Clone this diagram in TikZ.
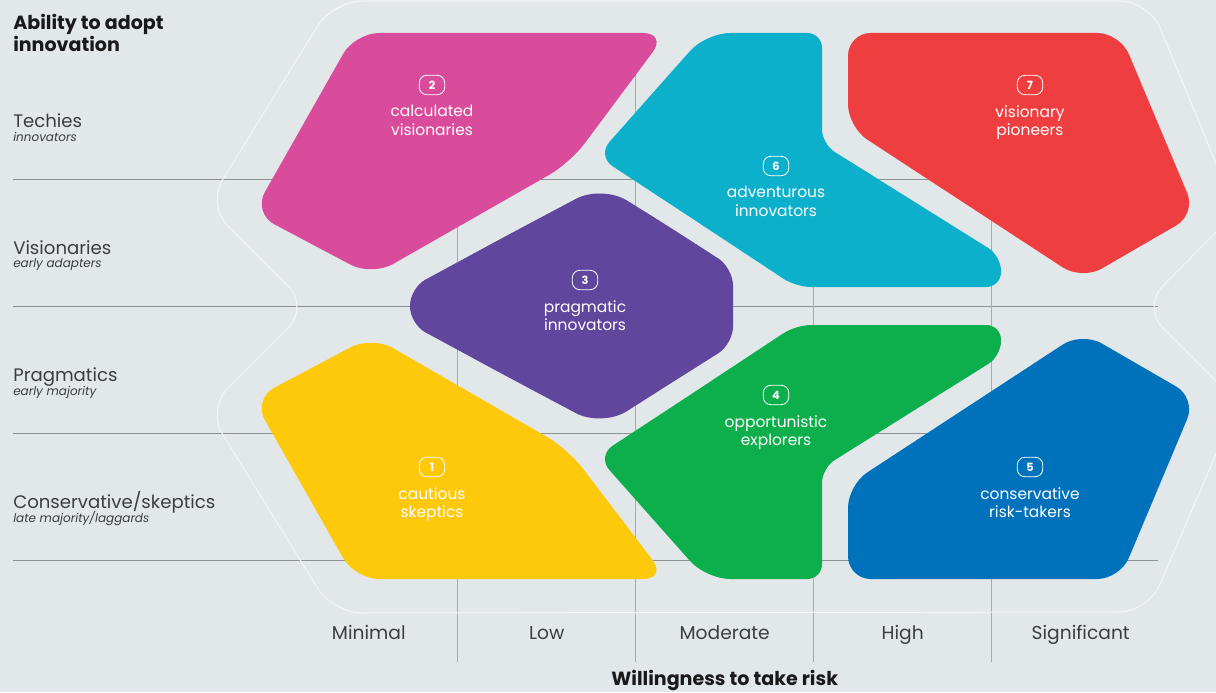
\documentclass[tikz,border=0pt]{standalone}
\usepackage{fontspec}
\setmainfont{Poppins}
\definecolor{bgpanel}{HTML}{E2E7EA}
\definecolor{gridh}{HTML}{8D9194}
\definecolor{gridv}{HTML}{A7ABAE}
\definecolor{rim}{HTML}{F3F5F7}
\definecolor{inktext}{HTML}{3B3E41}
\definecolor{cpink}{HTML}{D94B9B}
\definecolor{ccyan}{HTML}{0DB0CB}
\definecolor{cred}{HTML}{EF3E40}
\definecolor{cpurple}{HTML}{60469C}
\definecolor{cyellow}{HTML}{FEC90B}
\definecolor{cgreen}{HTML}{0DAF4C}
\definecolor{cblue}{HTML}{0072BC}
\begin{document}
\begin{tikzpicture}[x=0.75pt,y=-0.75pt,
    segment/.style={fill=#1},
    badge/.style={draw=white,line width=0.6pt,rounded corners=5.5pt,minimum width=19pt,minimum height=14.5pt,inner sep=0pt,text=white,font=\fontsize{8.5}{8.5}\selectfont\bfseries},
    seglabel/.style={anchor=north,align=center,inner sep=0pt,text=white,font=\fontsize{11.6}{14}\selectfont,execute at begin node=\strut},
    rowname/.style={anchor=base west,inner sep=0pt,text=inktext,font=\fontsize{13.6}{16}\selectfont},
    rownote/.style={anchor=base west,inner sep=0pt,text=inktext,font=\fontsize{9}{11}\selectfont\itshape},
    colname/.style={anchor=base,inner sep=0pt,text=inktext,font=\fontsize{14}{17}\selectfont},
    axisname/.style={inner sep=0pt,text=black!90,font=\fontsize{14.3}{16.8}\selectfont\bfseries}]
\useasboundingbox[fill=bgpanel] (0,0) rectangle (1216,692);
% grid
\foreach \y in {179.5,306.5,433.5,560.5}
  \draw[gridh,line width=1.1pt] (13,\y) -- (1158,\y);
\foreach \x in {457.7,635.7,813.7,991.7}
  \draw[gridv,line width=1.1pt] (\x,40) -- (\x,661.7);
% outline
\path
  (700,1) coordinate (o0) (1149,1) coordinate (o1) (1236,212) coordinate (o2)
  (1142,307) coordinate (o3) (1238,403) coordinate (o4) (1148,612) coordinate (o5)
  (333,613) coordinate (o6) (207,409) coordinate (o7) (309,307) coordinate (o8)
  (207,205) coordinate (o9) (333,1) coordinate (o10);
\draw[rim,line width=0.8pt,rounded corners=22pt]
  (o0)--(o1)--(o2)--(o3)--(o4)--(o5)--(o6)--(o7)--(o8)--(o9)--(o10)--cycle;
% segments
\fill[segment=cpink,rounded corners=18pt] (500,33) -- (667,33) -- (570,163) -- (372,276) -- (253,213) -- (355,33) -- cycle;
\fill[segment=ccyan] (760,33) [rounded corners=11pt] -- (822,33) -- (822,144) -- (1001,256) -- (1001,287) -- (796,287) -- (696,221)
  [rounded corners=14pt] -- (597,156) -- (651,95) [rounded corners=18pt] -- (706,33) -- cycle;
\fill[segment=cred,rounded corners=17pt] (980,33) -- (1120,33) -- (1196,214) -- (1082,280) -- (848,127) -- (848,33) -- cycle;
\fill[segment=cpurple] (733,306) [rounded corners=13pt] -- (733,344) -- (668,385) [rounded corners=22pt] -- (602,427) -- (506,376)
  [rounded corners=13pt] -- (410,324) -- (410,288) -- (506,236) [rounded corners=22pt] -- (602,185) -- (668,226)
  [rounded corners=13pt] -- (733,268) -- cycle;
\fill[segment=cyellow,rounded corners=18pt] (500,579) -- (355,579) -- (253,399) -- (372,336) -- (568,449) -- (667,579) -- cycle;
\fill[segment=cgreen] (760,579) [rounded corners=11pt] -- (822,579) -- (822,468) -- (1001,356) -- (1001,325) -- (796,325) -- (696,391)
  [rounded corners=14pt] -- (597,456) -- (651,517) [rounded corners=18pt] -- (706,579) -- cycle;
\fill[segment=cblue,rounded corners=17pt] (980,579) -- (848,579) -- (848,485) -- (1082,332) -- (1196,398) -- (1120,579) -- cycle;
% segment labels
\foreach \n/\x/\y/\txt in {1/432/467/{cautious\\skeptics},2/432/85/{calculated\\visionaries},
    3/585/280/{pragmatic\\innovators},4/776/395/{opportunistic\\explorers},
    5/1030/467/{conservative\\risk-takers},6/776/166/{adventurous\\innovators},
    7/1030/85/{visionary\\pioneers}}{
  \node[badge] (badge\n) at (\x,\y) {\n};
  \node[seglabel] (label\n) at (\x,\y+20) {\txt};
}
% axes
\foreach \y/\name/\note [count=\i] in {127.3/Techies/innovators,254/Visionaries/early adapters,
    381.7/Pragmatics/early majority,508.3/{Conservative/skeptics}/{late majority/laggards}}{
  \node[rowname] (row\i) at (13,\y) {\name};
  \node[rownote] (note\i) at (13,\y+13.7) {\note};
}
\foreach \x/\name [count=\i] in {368.8/Minimal,546.7/Low,724.7/Moderate,902.7/High,1080.7/Significant}
  \node[colname] (col\i) at (\x,639.3) {\name};
\node[axisname,anchor=north west,align=left] (adopt) at (13,14) {Ability to adopt\\innovation};
\node[axisname,anchor=base] (risk) at (724.7,685) {Willingness to take risk};
\end{tikzpicture}
\end{document}
